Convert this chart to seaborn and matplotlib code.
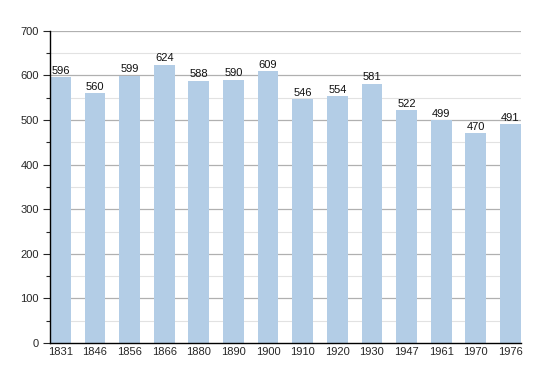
import pandas as pd
import seaborn as sns
import matplotlib.pyplot as plt
from matplotlib.ticker import MultipleLocator

years = ["1831", "1846", "1856", "1866", "1880", "1890", "1900",
         "1910", "1920", "1930", "1947", "1961", "1970", "1976"]
population = [596, 560, 599, 624, 588, 590, 609, 546, 554, 581, 522, 499, 470, 491]

df = pd.DataFrame({"year": years, "population": population})

sns.set_style("white")
plt.rcParams["font.family"] = ["Liberation Sans", "DejaVu Sans"]

fig = plt.figure(figsize=(5.5, 3.73), dpi=100)
ax = fig.add_axes([0.0909, 0.0804, 0.856, 0.837])

sns.barplot(data=df, x="year", y="population", color="#b3cde6",
            saturation=1, width=0.6, ax=ax, linewidth=0, alpha=1, zorder=3)
ax.bar_label(ax.containers[0], fontsize=8, padding=1, color="#111111")

# horizontal guide lines behind the bars
for y in range(50, 701, 50):
    major = y % 100 == 0
    ax.axhline(y, color="#b0b0b0" if major else "#e2e2e2",
               linewidth=0.9 if major else 0.8, zorder=0)

ax.set_xlim(-0.3, len(years) - 0.7)
ax.set_ylim(0, 700)
ax.yaxis.set_major_locator(MultipleLocator(100))
ax.yaxis.set_minor_locator(MultipleLocator(50))
ax.grid(False)

for side in ["top", "right"]:
    ax.spines[side].set_visible(False)
for side in ["left", "bottom"]:
    ax.spines[side].set_color("black")
    ax.spines[side].set_linewidth(1)
    ax.spines[side].set_zorder(5)

ax.tick_params(axis="y", which="major", length=5, width=0.8, direction="out",
               left=True, labelsize=8, pad=3)
ax.tick_params(axis="y", which="minor", length=3, width=0.8, direction="out", left=True)
ax.tick_params(axis="x", length=0, labelsize=8, pad=3)
ax.set_xlabel("")
ax.set_ylabel("")

plt.savefig("out.png", dpi=100)
plt.close()
